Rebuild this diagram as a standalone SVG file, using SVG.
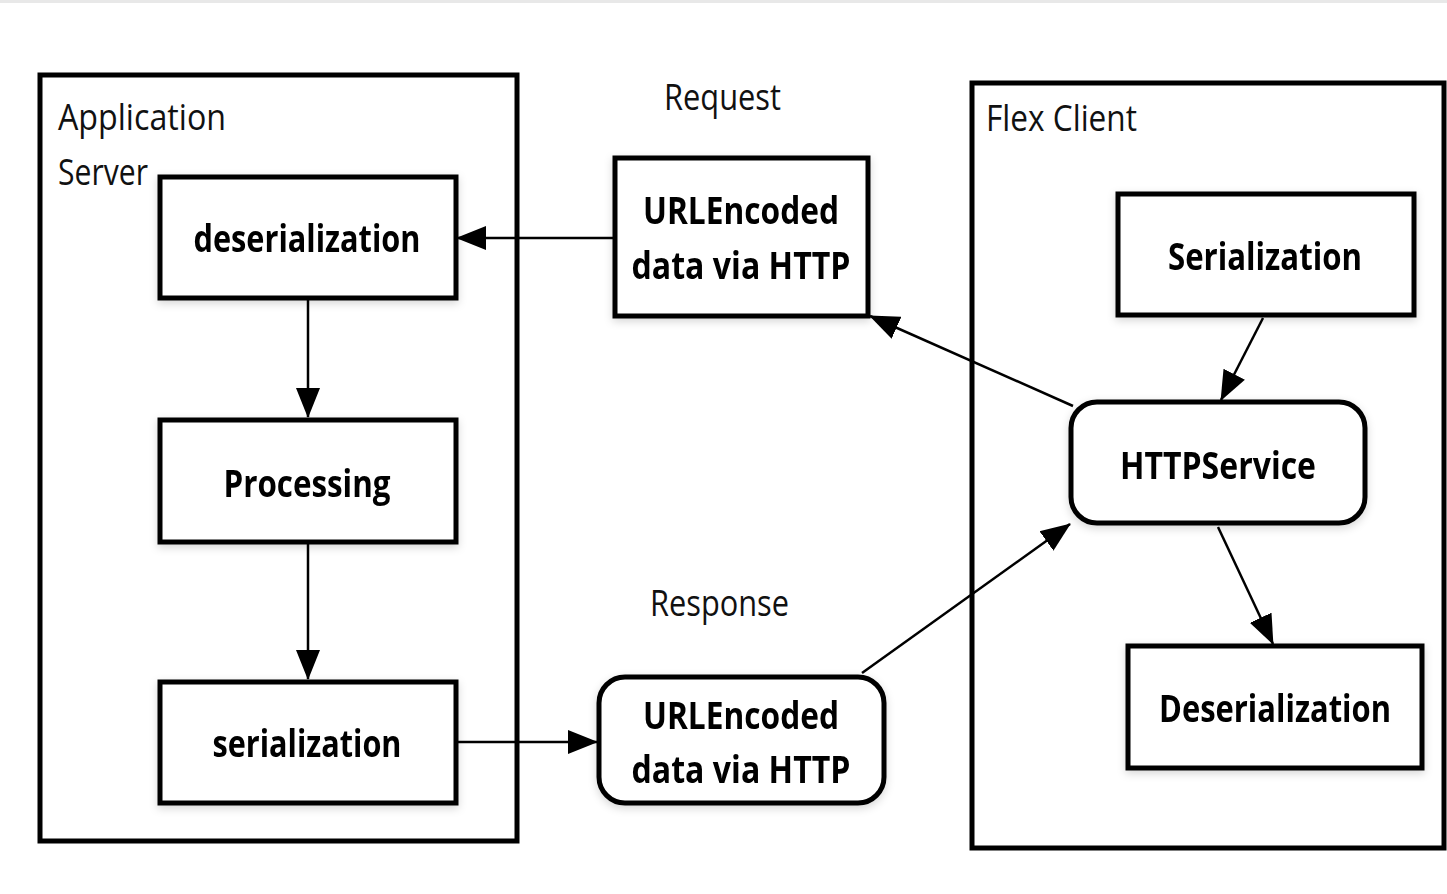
<svg xmlns="http://www.w3.org/2000/svg" width="1447" height="894" viewBox="0 0 1447 894">
<style>
.cont{fill:none;stroke:#000;stroke-width:5}
.box{fill:#fff;stroke:#000;stroke-width:5}
.lbl{font-family:"Open Sans","Noto Sans",sans-serif;font-size:37px;fill:#111}
.bt{font-family:"Open Sans","Noto Sans",sans-serif;font-size:37px;font-weight:bold;fill:#000;text-anchor:middle}
.edge{stroke:#000;stroke-width:2.5;fill:none;marker-end:url(#ah)}
</style>
<defs>
<marker id="ah" markerUnits="userSpaceOnUse" markerWidth="30" markerHeight="26" viewBox="0 0 30 26" refX="29" refY="13" orient="auto">
<path d="M0,1 L30,13 L0,25 Z" fill="#000"/>
</marker>
<filter id="sh" x="-10%" y="-10%" width="120%" height="130%">
<feDropShadow dx="0" dy="3" stdDeviation="4" flood-color="#000" flood-opacity="0.16"/>
</filter>
</defs>
<rect x="0" y="0" width="1447" height="894" fill="#fff"/>
<rect x="0" y="0" width="1447" height="3" fill="#e8e8e8"/>

<g id="appserver">
<rect class="cont" x="40" y="75" width="477" height="766"/>
<text class="lbl" x="58" y="130" textLength="168" lengthAdjust="spacingAndGlyphs">Application</text>
<text class="lbl" x="58" y="185" textLength="90" lengthAdjust="spacingAndGlyphs">Server</text>
</g>
<g id="flexclient">
<rect class="cont" x="972" y="83" width="472" height="765"/>
<text class="lbl" x="986" y="131" textLength="151" lengthAdjust="spacingAndGlyphs">Flex Client</text>
</g>

<g id="connectors">
<line class="edge" x1="614" y1="238" x2="457" y2="238"/>
<line class="edge" x1="308" y1="298" x2="308" y2="417"/>
<line class="edge" x1="308" y1="542" x2="308" y2="679"/>
<line class="edge" x1="457" y1="742" x2="597" y2="742"/>
<line class="edge" x1="1073" y1="406" x2="870" y2="316"/>
<line class="edge" x1="862" y1="673" x2="1070" y2="524"/>
<line class="edge" x1="1263" y1="318" x2="1221" y2="400"/>
<line class="edge" x1="1218" y1="527" x2="1273" y2="644"/>
</g>

<g id="deserialization" filter="url(#sh)">
<rect class="box" x="160" y="177" width="296" height="121"/>
<text class="bt" x="307" y="252" textLength="227" lengthAdjust="spacingAndGlyphs">deserialization</text>
</g>
<g id="processing" filter="url(#sh)">
<rect class="box" x="160" y="420" width="296" height="122"/>
<text class="bt" x="307" y="497" textLength="167" lengthAdjust="spacingAndGlyphs">Processing</text>
</g>
<g id="serialization" filter="url(#sh)">
<rect class="box" x="160" y="682" width="296" height="121"/>
<text class="bt" x="307" y="757" textLength="189" lengthAdjust="spacingAndGlyphs">serialization</text>
</g>

<g id="request-label">
<text class="lbl" x="664" y="110" textLength="117" lengthAdjust="spacingAndGlyphs">Request</text>
</g>
<g id="request-data" filter="url(#sh)">
<rect class="box" x="615" y="158" width="253" height="158"/>
<text class="bt" x="741" y="224" textLength="196" lengthAdjust="spacingAndGlyphs">URLEncoded</text>
<text class="bt" x="741" y="279" textLength="219" lengthAdjust="spacingAndGlyphs">data via HTTP</text>
</g>

<g id="response-label">
<text class="lbl" x="650" y="616" textLength="139" lengthAdjust="spacingAndGlyphs">Response</text>
</g>
<g id="response-data" filter="url(#sh)">
<rect class="box" x="599" y="677" width="285" height="126" rx="26" ry="26"/>
<text class="bt" x="741" y="729" textLength="196" lengthAdjust="spacingAndGlyphs">URLEncoded</text>
<text class="bt" x="741" y="783" textLength="219" lengthAdjust="spacingAndGlyphs">data via HTTP</text>
</g>

<g id="client-serialization" filter="url(#sh)">
<rect class="box" x="1118" y="194" width="296" height="121"/>
<text class="bt" x="1265" y="270" textLength="194" lengthAdjust="spacingAndGlyphs">Serialization</text>
</g>
<g id="httpservice" filter="url(#sh)">
<rect class="box" x="1071" y="402" width="294" height="121" rx="26" ry="26"/>
<text class="bt" x="1218" y="479" textLength="196" lengthAdjust="spacingAndGlyphs">HTTPService</text>
</g>
<g id="client-deserialization" filter="url(#sh)">
<rect class="box" x="1128" y="646" width="294" height="122"/>
<text class="bt" x="1275" y="722" textLength="232" lengthAdjust="spacingAndGlyphs">Deserialization</text>
</g>
</svg>
